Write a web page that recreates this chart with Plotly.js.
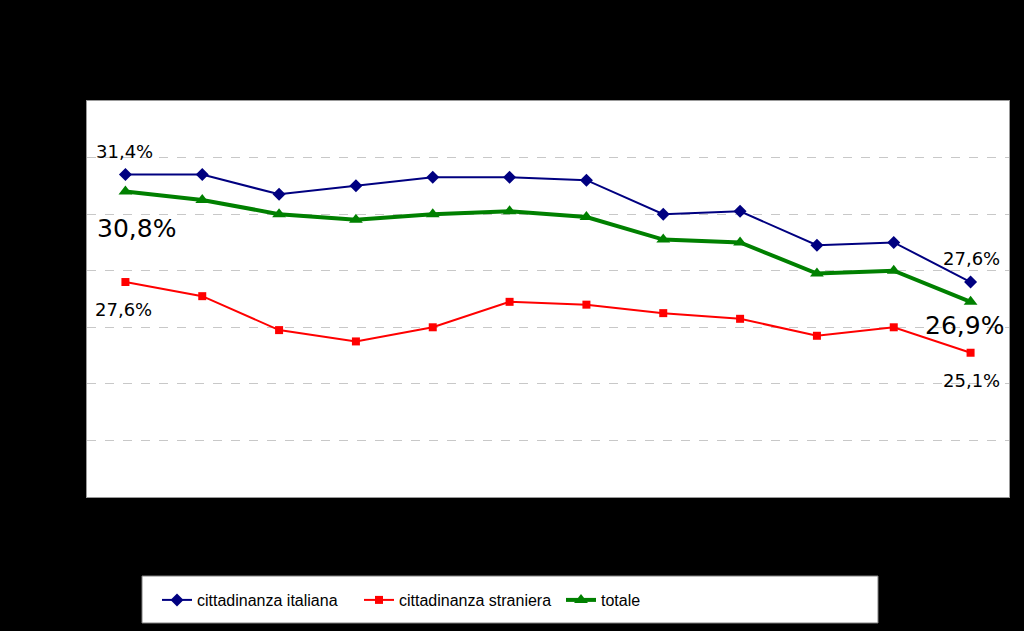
<!DOCTYPE html>
<html>
<head>
<meta charset="utf-8">
<script src="https://cdn.plot.ly/plotly-3.0.1.min.js"></script>
<style>html,body{margin:0;padding:0;background:#000;}#chart{width:1024px;height:631px;}</style>
</head>
<body>
<div id="chart"></div>
<script>
// Data (percentages)
var categories = [1, 2, 3, 4, 5, 6, 7, 8, 9, 10, 11, 12];
var italiana = [31.4, 31.4, 30.7, 31.0, 31.3, 31.3, 31.2, 30.0, 30.1, 28.9, 29.0, 27.6];
var straniera = [27.6, 27.1, 25.9, 25.5, 26.0, 26.9, 26.8, 26.5, 26.3, 25.7, 26.0, 25.1];
var totale = [30.8, 30.5, 30.0, 29.8, 30.0, 30.1, 29.9, 29.1, 29.0, 27.9, 28.0, 26.9];
var seriesNames = ["cittadinanza italiana", "cittadinanza straniera", "totale"];
var yTicks = [20, 22, 24, 26, 28, 30, 32, 34];

var idx = categories.map(function(c, i){ return i; });

var traces = [
  {x: idx, y: italiana, name: seriesNames[0], type: 'scatter', mode: 'lines+markers',
   line: {color: '#000080', width: 2}, marker: {symbol: 'diamond', size: 10, color: '#000080'}},
  {x: idx, y: straniera, name: seriesNames[1], type: 'scatter', mode: 'lines+markers',
   line: {color: '#FF0000', width: 2}, marker: {symbol: 'square', size: 8, color: '#FF0000'}},
  {x: idx, y: totale, name: seriesNames[2], type: 'scatter', mode: 'lines+markers',
   line: {color: '#008000', width: 4}, marker: {symbol: 'triangle-up', size: 12, color: '#008000'}}
];

function fmt(v){ return v.toFixed(1).replace('.', ',') + '%'; }
var last = categories.length - 1;
var annFont = {family: 'DejaVu Sans, Verdana, sans-serif', color: '#000'};
var annotations = [
  {x: 0, y: italiana[0], text: fmt(italiana[0]), xshift: -1, yshift: 23, font: Object.assign({size: 18}, annFont)},
  {x: 0, y: totale[0], text: fmt(totale[0]), xshift: 11, yshift: -37, font: Object.assign({size: 25}, annFont)},
  {x: 0, y: straniera[0], text: fmt(straniera[0]), xshift: -2, yshift: -27, font: Object.assign({size: 18}, annFont)},
  {x: last, y: italiana[last], text: fmt(italiana[last]), xshift: 1, yshift: 24, font: Object.assign({size: 18}, annFont)},
  {x: last, y: totale[last], text: fmt(totale[last]), xshift: -6, yshift: -24, font: Object.assign({size: 25}, annFont)},
  {x: last, y: straniera[last], text: fmt(straniera[last]), xshift: 1, yshift: -28, font: Object.assign({size: 18}, annFont)}
].map(function(a){ a.xref='x'; a.yref='y'; a.showarrow=false; return a; });

var layout = {
  width: 1024, height: 631,
  paper_bgcolor: '#000000', plot_bgcolor: '#FFFFFF',
  margin: {l: 87, r: 15, t: 101, b: 134},
  showlegend: true,
  xaxis: {range: [-0.5, categories.length - 0.5], showgrid: false, zeroline: false,
          showticklabels: false, ticks: '', tickvals: idx, ticktext: categories,
          showline: true, mirror: true, linecolor: '#999999', linewidth: 1},
  yaxis: {range: [20, 34], tickvals: yTicks, showticklabels: false, ticks: '',
          showgrid: true, gridcolor: '#C8C8C8', griddash: 'dash', gridwidth: 1, zeroline: false,
          showline: true, mirror: true, linecolor: '#999999', linewidth: 1},
  legend: {orientation: 'h', xref: 'container', yref: 'container',
           x: 157/1024, y: 1 - 600/631, xanchor: 'left', yanchor: 'middle',
           bgcolor: 'rgba(0,0,0,0)', borderwidth: 0, entrywidth: 157, entrywidthmode: 'pixels',
           font: {family: 'Liberation Sans, Arial, sans-serif', size: 16, color: '#000'},
           itemwidth: 30},
  shapes: [{type: 'rect', xref: 'paper', yref: 'paper', layer: 'below',
            x0: (142-87)/922, x1: (878-87)/922, y0: (497-623)/396, y1: (497-576)/396,
            fillcolor: '#FFFFFF', line: {color: '#808080', width: 1}}],
  annotations: annotations
};

Plotly.newPlot('chart', traces, layout, {displayModeBar: false, staticPlot: true});
</script>
</body>
</html>
